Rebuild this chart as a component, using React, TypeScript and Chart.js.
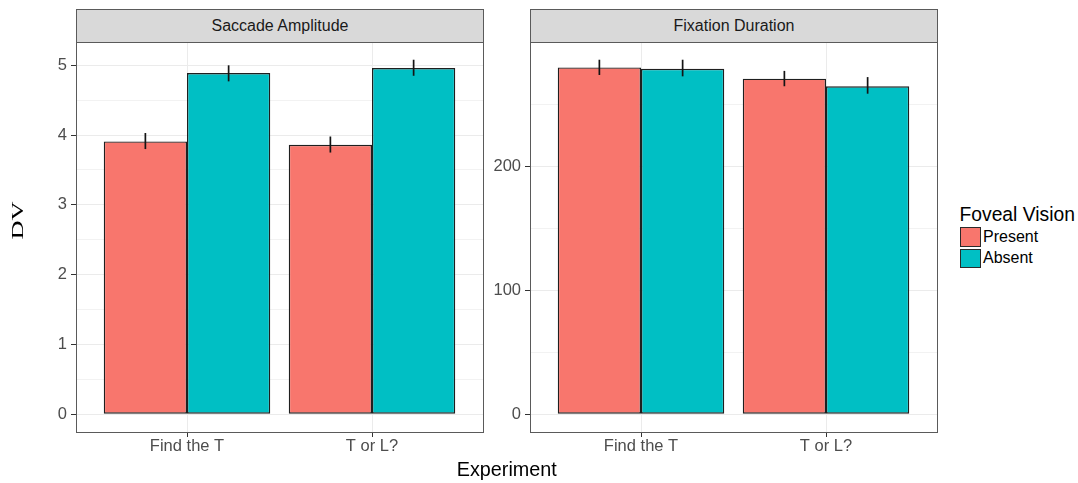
import React, { useEffect, useRef } from "react";
import { Chart, registerables } from "chart.js";

Chart.register(...registerables);

// ---------- data ----------
const categories = ["Find the T", "T or L?"];
const seriesNames = ["Present", "Absent"];
const seriesColors = ["#F8766D", "#00BFC4"];

// Saccade Amplitude
const saccadePresent = [3.91, 3.86];
const saccadeAbsent = [4.89, 4.96];
const saccadePresentLow = [3.8, 3.75];
const saccadePresentHigh = [4.03, 3.98];
const saccadeAbsentLow = [4.77, 4.85];
const saccadeAbsentHigh = [5.0, 5.08];
const saccadeMajorTicks = [0, 1, 2, 3, 4, 5];
const saccadeMinorTicks = [0.5, 1.5, 2.5, 3.5, 4.5];

// Fixation Duration
const fixationPresent = [279.8, 270.7];
const fixationAbsent = [278.7, 264.6];
const fixationPresentLow = [273.7, 264.6];
const fixationPresentHigh = [286, 277];
const fixationAbsentLow = [272.6, 258.6];
const fixationAbsentHigh = [286, 272];
const fixationMajorTicks = [0, 100, 200];
const fixationMinorTicks = [50, 150, 250];

const panelTitles = ["Saccade Amplitude", "Fixation Duration"];
const legendTitle = "Foveal Vision";
const xTitle = "Experiment";
const yTitle = "DV";

const SANS = "'Liberation Sans', Arial, Helvetica, sans-serif";
const SERIF = "'Liberation Serif', 'Times New Roman', serif";
const BORDER = "#5a5a5a";

type PanelProps = {
  canvasLeft: number;
  canvasWidth: number;
  yAxisWidth: number;
  rightPad: number;
  values: number[][];
  lows: number[][];
  highs: number[][];
  majors: number[];
  minors: number[];
};

function makeErrorBarPlugin(lows: number[][], highs: number[][]) {
  return {
    id: "errorBars",
    afterDatasetsDraw(chart: any) {
      const ctx = chart.ctx;
      const y = chart.scales.y;
      ctx.save();
      ctx.strokeStyle = "#141414";
      ctx.lineWidth = 1.7;
      chart.data.datasets.forEach((_: any, di: number) => {
        const meta = chart.getDatasetMeta(di);
        meta.data.forEach((bar: any, i: number) => {
          ctx.beginPath();
          ctx.moveTo(bar.x, y.getPixelForValue(lows[di][i]));
          ctx.lineTo(bar.x, y.getPixelForValue(highs[di][i]));
          ctx.stroke();
        });
      });
      ctx.restore();
    },
  };
}

function PanelChart(p: PanelProps) {
  const ref = useRef<HTMLCanvasElement | null>(null);
  useEffect(() => {
    if (!ref.current) return;
    const top = Math.max(...p.highs.flat());
    const expand = top * 0.05;
    const allTicks = [...p.majors, ...p.minors].sort((a, b) => a - b);
    const isMajor = (v: any) => p.majors.includes(v);
    const chart = new Chart(ref.current, {
      type: "bar",
      data: {
        datasets: seriesNames.map((name, si) => ({
          label: name,
          data: p.values[si].map((v, i) => ({ x: i + 1, y: v })),
          backgroundColor: seriesColors[si],
          borderColor: "#1f1f1f",
          borderWidth: 1.4,
          borderSkipped: false,
          categoryPercentage: 0.9,
          barPercentage: 1,
        })),
      } as any,
      options: {
        animation: false,
        responsive: false,
        devicePixelRatio: 1,
        events: [],
        layout: { padding: { top: 42, right: p.rightPad, left: 0, bottom: 0 } },
        plugins: {
          legend: { display: false },
          tooltip: { enabled: false },
          title: { display: false },
        },
        scales: {
          x: {
            type: "linear",
            min: 0.4,
            max: 2.6,
            offset: false,
            afterBuildTicks: (s: any) => {
              s.ticks = categories.map((_, i) => ({ value: i + 1 }));
            },
            afterFit: (s: any) => {
              s.height = 51;
            },
            ticks: {
              autoSkip: false,
              maxRotation: 0,
              padding: 0,
              color: "#4d4d4d",
              font: { family: SANS, size: 16.5 },
              callback: (v: any) => categories[Math.round(v) - 1] ?? "",
            },
            grid: {
              offset: false,
              color: "#ebebeb",
              lineWidth: 1,
              drawTicks: true,
              tickLength: 5,
              tickColor: "#333333",
              tickWidth: 1,
            },
            border: { display: false },
          },
          y: {
            type: "linear",
            min: -expand,
            max: top + expand,
            afterBuildTicks: (s: any) => {
              s.ticks = allTicks.map((v) => ({ value: v }));
            },
            afterFit: (s: any) => {
              s.width = p.yAxisWidth;
            },
            ticks: {
              autoSkip: false,
              padding: 4,
              color: "#4d4d4d",
              font: { family: SANS, size: 16.5 },
              callback: (v: any) => (isMajor(v) ? String(v) : ""),
            },
            grid: {
              color: (c: any) => (isMajor(c.tick?.value) ? "#ebebeb" : "#f2f2f2"),
              lineWidth: 1,
              drawTicks: true,
              tickLength: 5,
              tickColor: (c: any) => (isMajor(c.tick?.value) ? "#333333" : "rgba(0,0,0,0)"),
              tickWidth: 1,
            },
            border: { display: false },
          },
        },
      } as any,
      plugins: [makeErrorBarPlugin(p.lows, p.highs)],
    });
    return () => chart.destroy();
  }, []);
  return (
    <canvas
      ref={ref}
      width={p.canvasWidth}
      height={483}
      style={{
        position: "absolute",
        left: p.canvasLeft,
        top: 0,
        width: p.canvasWidth,
        height: 483,
      }}
    />
  );
}

function Strip({ left, width, title }: { left: number; width: number; title: string }) {
  return (
    <>
      <div
        style={{
          position: "absolute",
          left,
          top: 9,
          width: width + 1,
          height: 34,
          boxSizing: "border-box",
          background: "#d9d9d9",
          border: `1px solid ${BORDER}`,
          display: "flex",
          alignItems: "center",
          justifyContent: "center",
          fontFamily: SANS,
          fontSize: 16,
          lineHeight: 1,
          color: "#1a1a1a",
        }}
      >
        {title}
      </div>
      <div
        style={{
          position: "absolute",
          left,
          top: 42,
          width: width + 1,
          height: 391,
          boxSizing: "border-box",
          border: `1px solid ${BORDER}`,
          pointerEvents: "none",
        }}
      />
    </>
  );
}

export default function App() {
  return (
    <div
      style={{
        position: "absolute",
        left: 0,
        top: 0,
        width: 1078,
        height: 483,
        background: "#ffffff",
        overflow: "hidden",
      }}
    >
      <PanelChart
        canvasLeft={0}
        canvasWidth={490}
        yAxisWidth={76}
        rightPad={7}
        values={[saccadePresent, saccadeAbsent]}
        lows={[saccadePresentLow, saccadeAbsentLow]}
        highs={[saccadePresentHigh, saccadeAbsentHigh]}
        majors={saccadeMajorTicks}
        minors={saccadeMinorTicks}
      />
      <PanelChart
        canvasLeft={490}
        canvasWidth={460}
        yAxisWidth={40}
        rightPad={13}
        values={[fixationPresent, fixationAbsent]}
        lows={[fixationPresentLow, fixationAbsentLow]}
        highs={[fixationPresentHigh, fixationAbsentHigh]}
        majors={fixationMajorTicks}
        minors={fixationMinorTicks}
      />
      <Strip left={76} width={407} title={panelTitles[0]} />
      <Strip left={530} width={407} title={panelTitles[1]} />

      {/* y axis title */}
      <svg
        width={40}
        height={100}
        style={{ position: "absolute", left: 0, top: 170, overflow: "visible" }}
      >
        <text
          transform="translate(23, 50.5) rotate(-90)"
          x={0}
          y={0}
          textAnchor="middle"
          fontFamily={SERIF}
          fontSize={16.5}
          fill="#000"
          textLength={38}
          lengthAdjust="spacingAndGlyphs"
        >
          {yTitle}
        </text>
      </svg>

      {/* x axis title */}
      <div
        style={{
          position: "absolute",
          left: 506.75,
          top: 460.3,
          fontFamily: SANS,
          fontSize: 19.8,
          lineHeight: 1,
          color: "#000",
          whiteSpace: "nowrap",
          transform: "translateX(-50%)",
        }}
      >
        {xTitle}
      </div>

      {/* legend */}
      <div
        style={{
          position: "absolute",
          left: 959.5,
          top: 204.5,
          fontFamily: SANS,
          fontSize: 19.3,
          lineHeight: 1,
          color: "#000",
          whiteSpace: "nowrap",
        }}
      >
        {legendTitle}
      </div>
      {seriesNames.map((name, i) => (
        <React.Fragment key={name}>
          <div
            style={{
              position: "absolute",
              left: 960,
              top: 227 + i * 21.5,
              width: 21,
              height: 19.5,
              boxSizing: "border-box",
              background: seriesColors[i],
              border: "1.5px solid #2a2a2a",
            }}
          />
          <div
            style={{
              position: "absolute",
              left: 983,
              top: 228.5 + i * 21.5,
              fontFamily: SANS,
              fontSize: 16,
              lineHeight: 1,
              color: "#000",
              whiteSpace: "nowrap",
            }}
          >
            {name}
          </div>
        </React.Fragment>
      ))}
    </div>
  );
}
